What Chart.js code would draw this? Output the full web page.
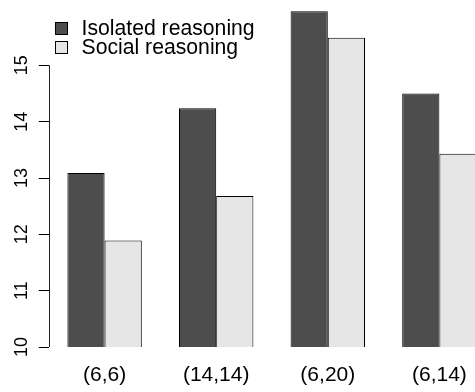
<!DOCTYPE html>
<html>
<head>
<meta charset="utf-8">
<script src="https://cdn.jsdelivr.net/npm/chart.js@4/dist/chart.umd.min.js"></script>
<style>
  html, body { margin: 0; padding: 0; background: #fff; overflow: hidden; }
  #wrap { position: relative; width: 500px; height: 392px; }
</style>
</head>
<body>
<div id="wrap"><canvas id="c"></canvas></div>
<script>
// Group labels and the two series
const categories = ['(6,6)', '(14,14)', '(6,20)', '(6,14)'];
const isolated = [13.09, 14.24, 15.96, 14.50];
const social = [11.89, 12.68, 15.49, 13.43];
const seriesNames = ['Isolated reasoning', 'Social reasoning'];
const yTicks = [10, 11, 12, 13, 14, 15];

const FONT = '"Liberation Sans", Arial, Helvetica, sans-serif';

// R-style y axis line: runs only from the first to the last tick
const axisLine = {
  id: 'axisLine',
  afterDraw(chart) {
    const y = chart.scales.y;
    const ctx = chart.ctx;
    const x = Math.round(chart.chartArea.left) + 0.5;
    ctx.save();
    ctx.strokeStyle = '#222';
    ctx.lineWidth = 1;
    ctx.beginPath();
    ctx.moveTo(x, y.getPixelForValue(yTicks[0]));
    ctx.lineTo(x, y.getPixelForValue(yTicks[yTicks.length - 1]));
    ctx.stroke();
    ctx.restore();
  }
};

// Legend box in the top-left corner of the plot
const cornerLegend = {
  id: 'cornerLegend',
  afterDraw(chart) {
    const ctx = chart.ctx;
    const x0 = 55.5, y0 = 28, step = 19.4, box = 12;
    ctx.save();
    ctx.font = '21.2px ' + FONT;
    ctx.textBaseline = 'middle';
    ctx.textAlign = 'left';
    chart.data.datasets.forEach((ds, i) => {
      const cy = y0 + i * step;
      const top = Math.round(cy - box / 2) + 0.5;
      ctx.fillStyle = ds.backgroundColor;
      ctx.fillRect(x0, top, box, box);
      ctx.strokeStyle = '#000';
      ctx.lineWidth = 1;
      ctx.strokeRect(x0, top, box, box);
      ctx.fillStyle = '#000';
      ctx.fillText(ds.label, 81.5, cy + 1);
    });
    ctx.restore();
  }
};

new Chart(document.getElementById('c'), {
  type: 'bar',
  data: {
    labels: categories,
    datasets: [
      {
        label: seriesNames[0],
        data: isolated,
        backgroundColor: '#4D4D4D',
        borderColor: '#000',
        borderWidth: 1,
        borderSkipped: false
      },
      {
        label: seriesNames[1],
        data: social,
        backgroundColor: '#E6E6E6',
        borderColor: '#000',
        borderWidth: 1,
        borderSkipped: false
      }
    ]
  },
  options: {
    responsive: true,
    maintainAspectRatio: false,
    animation: false,
    devicePixelRatio: 1,
    layout: { padding: { top: 0, right: 4.8, bottom: 0, left: 0 } },
    datasets: {
      bar: { categoryPercentage: 2 / 3, barPercentage: 1 }
    },
    plugins: {
      legend: { display: false },
      tooltip: { enabled: false }
    },
    scales: {
      x: {
        offset: true,
        grid: { display: false, drawTicks: false },
        border: { display: false },
        ticks: {
          color: '#000',
          font: { family: FONT, size: 21 },
          padding: 16,
          maxRotation: 0,
          minRotation: 0
        },
        afterFit(scale) {
          scale.height = 45;
          scale.paddingLeft = 0;
          scale.paddingRight = 0;
        }
      },
      y: {
        min: 10,
        max: 16.16,
        grid: {
          display: true,
          drawOnChartArea: false,
          drawTicks: true,
          tickLength: 10,
          color: '#000',
          lineWidth: 1
        },
        border: { display: false },
        ticks: {
          color: '#000',
          font: { family: FONT, size: 18 },
          minRotation: 90,
          maxRotation: 90,
          crossAlign: 'center',
          padding: 7
        },
        afterBuildTicks(scale) {
          scale.ticks = yTicks.map(v => ({ value: v }));
        },
        afterFit(scale) {
          scale.width = 48.8;
          scale.paddingTop = 0;
          scale.paddingBottom = 0;
        }
      }
    }
  },
  plugins: [axisLine, cornerLegend]
});
</script>
</body>
</html>
